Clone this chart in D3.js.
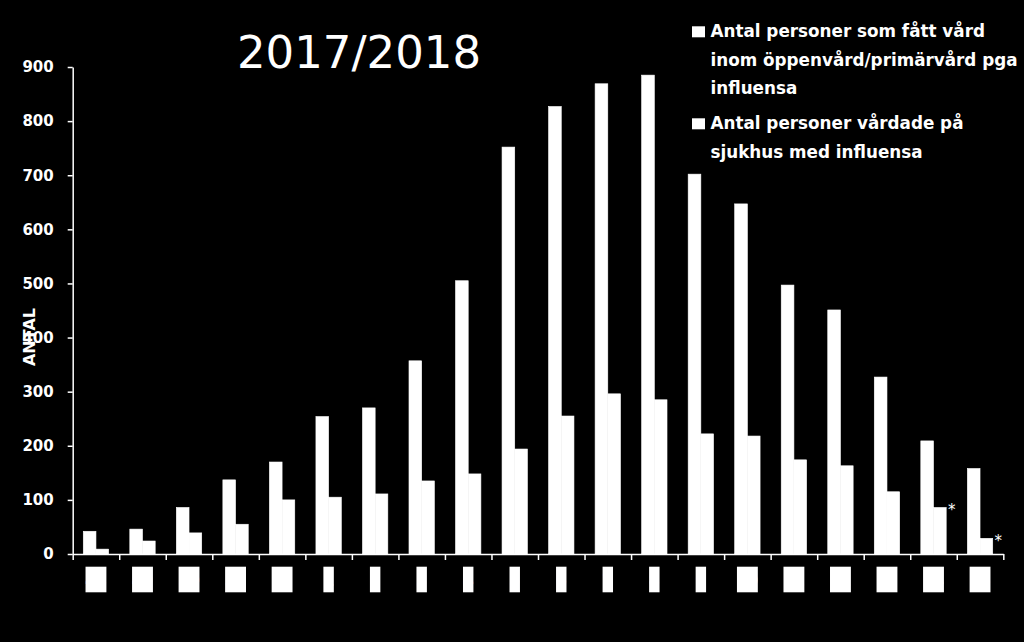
<!DOCTYPE html>
<html>
<head>
<meta charset="utf-8">
<script src="https://cdn.jsdelivr.net/npm/d3@7/dist/d3.min.js"></script>
<style>
  html, body { margin: 0; padding: 0; background: #000; }
  svg { display: block; }
</style>
</head>
<body>
<script>
// ---- Data ----
const weeks = ["48", "49", "50", "51", "52", "1", "2", "3", "4", "5", "6", "7", "8", "9", "10", "11", "12", "13", "14", "15"];
const seriesNames = [
  "Antal personer som fått vård inom öppenvård/primärvård pga influensa",
  "Antal personer vårdade på sjukhus med influensa"
];
const openCare = [42, 46, 86, 137, 170, 254, 270, 357, 505, 752, 827, 869, 885, 702, 647, 497, 451, 327, 209, 158];
const hospital = [9, 24, 39, 55, 100, 105, 111, 135, 148, 194, 255, 296, 285, 222, 218, 174, 163, 115, 86, 29];
const notes = ["", "", "", "", "", "", "", "", "", "", "", "", "", "", "", "", "", "", "*", "*"];
const yTicks = [0, 100, 200, 300, 400, 500, 600, 700, 800, 900];
const title = "2017/2018";
const yLabel = "ANTAL";
const legendLines = [
  ["Antal personer som fått vård", "inom öppenvård/primärvård pga", "influensa"],
  ["Antal personer vårdade på", "sjukhus med influensa"]
];

// ---- Layout ----
const W = 1024, H = 642;
const plotL = 72.7, plotR = 1003.3, plotT = 67, plotB = 554;
const FONT = "'DejaVu Sans', sans-serif";

const svg = d3.select("body").append("svg").attr("width", W).attr("height", H);
svg.append("rect").attr("width", W).attr("height", H).attr("fill", "#000");

const y = d3.scaleLinear().domain([0, 900]).range([plotB, plotT]);
const pIn = 0.4545;
const x0 = d3.scaleBand().domain(weeks).range([plotL, plotR]).paddingInner(pIn).paddingOuter(pIn / 2);
const x1 = d3.scaleBand().domain([0, 1]).range([0, x0.bandwidth()]);
const xEdge = d3.scaleLinear().domain([0, weeks.length]).range([plotL, plotR]);

// Bars
const data = weeks.map((w, i) => ({ w, vals: [openCare[i], hospital[i]], note: notes[i] }));
const g = svg.append("g");
const groups = g.selectAll("g.grp").data(data).join("g").attr("class", "grp")
  .attr("transform", d => `translate(${x0(d.w)},0)`);
groups.selectAll("rect").data(d => d.vals.map((v, k) => ({ v, k }))).join("rect")
  .attr("x", d => x1(d.k))
  .attr("y", d => y(d.v))
  .attr("width", x1.bandwidth())
  .attr("height", d => y(0) - y(d.v))
  .attr("fill", "#fff")
  .attr("stroke", "#fff")
  .attr("stroke-width", 0.6);

// Asterisk notes next to second bar
groups.filter(d => d.note).append("text")
  .attr("x", d => x1(1) + x1.bandwidth() + 5.5)
  .attr("y", d => y(d.vals[1]) + 8)
  .attr("text-anchor", "middle")
  .attr("font-family", FONT).attr("font-size", 15).attr("fill", "#fff")
  .text(d => d.note);

// Y axis
const yAxis = d3.axisLeft(y).tickValues(yTicks).tickSize(5).tickSizeOuter(0).tickPadding(14);
const ya = svg.append("g").attr("transform", `translate(${plotL},0)`).call(yAxis);
ya.select(".domain").attr("stroke", "#fff").attr("stroke-width", 1.5);
ya.selectAll(".tick line").attr("stroke", "#fff").attr("stroke-width", 1.5);
ya.selectAll(".tick text").attr("fill", "#fff").attr("font-family", FONT)
  .attr("font-size", 15).attr("font-weight", "bold");

// X axis (tick marks between categories)
const xAxis = d3.axisBottom(xEdge).tickValues(d3.range(weeks.length + 1)).tickSize(6).tickSizeOuter(0).tickFormat("");
const xa = svg.append("g").attr("transform", `translate(0,${plotB})`).call(xAxis);
xa.select(".domain").attr("stroke", "#fff").attr("stroke-width", 1.5);
xa.selectAll(".tick line").attr("stroke", "#fff").attr("stroke-width", 1.5);

// Category labels (white boxes with week numbers)
const lab = svg.append("g").selectAll("g").data(weeks).join("g")
  .attr("transform", d => `translate(${x0(d) + x0.bandwidth() / 2},0)`);
lab.append("text")
  .attr("y", 586)
  .attr("text-anchor", "middle")
  .attr("font-family", FONT).attr("font-size", 15).attr("font-weight", "bold")
  .attr("fill", "#fff")
  .text(d => d);
lab.each(function () {
  const t = d3.select(this).select("text");
  const len = t.node().getComputedTextLength();
  d3.select(this).insert("rect", "text")
    .attr("x", -len / 2).attr("y", 566.7).attr("width", len).attr("height", 25.6)
    .attr("fill", "#fff");
});

// Title
svg.append("text").attr("x", 359).attr("y", 67.5).attr("text-anchor", "middle")
  .attr("font-family", FONT).attr("font-size", 45).attr("fill", "#fff").text(title);

// Y label
svg.append("text").attr("transform", "translate(35,337) rotate(-90)")
  .attr("text-anchor", "middle")
  .attr("font-family", FONT).attr("font-size", 16).attr("font-weight", "bold")
  .attr("fill", "#fff").text(yLabel);

// Legend
const legendBase = [37.3, 129.3];
const lg = svg.append("g");
legendLines.forEach((lines, i) => {
  lg.append("rect").attr("x", 692).attr("y", legendBase[i] - 11).attr("width", 13).attr("height", 11).attr("fill", "#fff");
  const t = lg.append("text").attr("font-family", FONT).attr("font-size", 16.8).attr("font-weight", "bold").attr("fill", "#fff");
  lines.forEach((ln, j) => {
    t.append("tspan").attr("x", 710.5).attr("y", legendBase[i] + j * 28.5).text(ln);
  });
});
</script>
</body>
</html>
